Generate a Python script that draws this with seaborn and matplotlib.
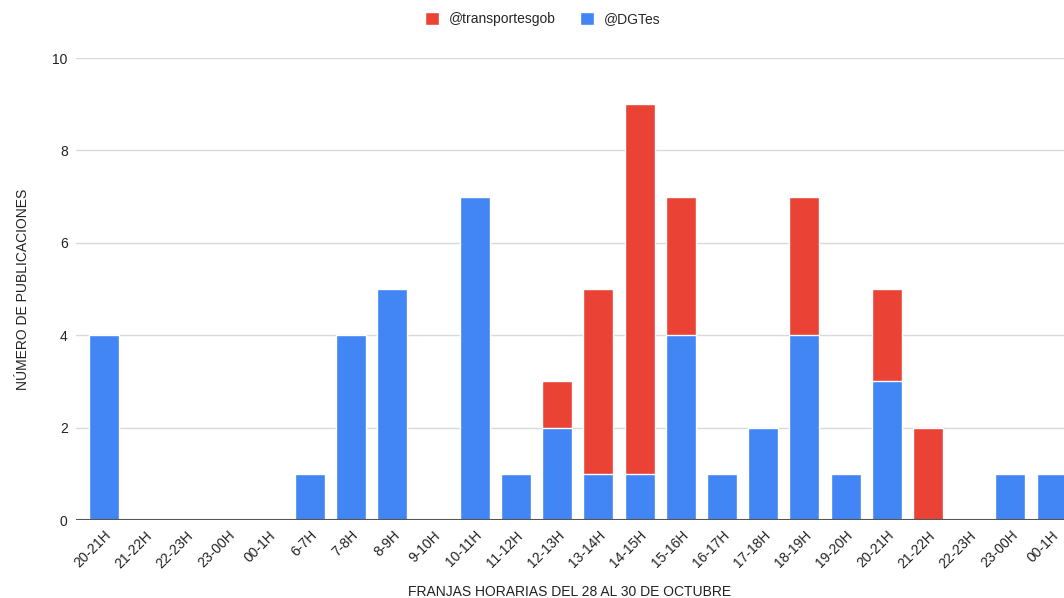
"""
Publicaciones por franja horaria (28-30 octubre): @DGTes vs @transportesgob.
Stacked bars, DGTes at the bottom.
"""

import pandas as pd
import numpy as np
import matplotlib
matplotlib.use("Agg")
import matplotlib.pyplot as plt
from matplotlib.patches import Patch
import seaborn as sns

# ── Data ────────────────────────────────────────────────────────────────────
franjas = ["20-21H", "21-22H", "22-23H", "23-00H", "00-1H", "6-7H", "7-8H",
           "8-9H", "9-10H", "10-11H", "11-12H", "12-13H", "13-14H", "14-15H",
           "15-16H", "16-17H", "17-18H", "18-19H", "19-20H", "20-21H",
           "21-22H", "22-23H", "23-00H", "00-1H"]
dgtes = [4, 0, 0, 0, 0, 1, 4, 5, 0, 7, 1, 2, 1, 1, 4, 1, 2, 4, 1, 3, 0, 0, 1, 1]
transportes = [0, 0, 0, 0, 0, 0, 0, 0, 0, 0, 0, 1, 4, 8, 3, 0, 0, 3, 0, 2, 2, 0, 0, 0]

RED = "#EA4335"
BLUE = "#4285F4"

# slot index keeps repeated labels apart
df = pd.DataFrame({
    "slot": np.arange(len(franjas)),
    "franja": franjas,
    "DGTes": dgtes,
    "transportesgob": transportes,
})
df["total"] = df["DGTes"] + df["transportesgob"]

# ── Plot ────────────────────────────────────────────────────────────────────
sns.set_style("white")
plt.rcParams["font.family"] = ["Liberation Sans", "DejaVu Sans"]

fig = plt.figure(figsize=(10.64, 5.98), dpi=100)
ax = fig.add_axes([0.0714, 0.1304, 0.9286, 0.7726])

# red = total, blue drawn over it = DGTes
sns.barplot(data=df, x="slot", y="total", color=RED, width=0.73,
            saturation=1, ax=ax, zorder=3)
sns.barplot(data=df, x="slot", y="DGTes", color=BLUE, width=0.73,
            saturation=1, ax=ax, zorder=4)

ax.set_ylim(0, 10)
ax.set_xlim(-0.68, 23.3)
ax.set_yticks([0, 2, 4, 6, 8, 10])
ax.yaxis.grid(True, color="#d9d9d9", linewidth=1)
ax.set_axisbelow(True)
for s in ["top", "right", "left", "bottom"]:
    ax.spines[s].set_visible(False)
ax.axhline(0, color="#555555", linewidth=1.5, zorder=5)

ax.set_xticks(df["slot"])
ax.set_xticklabels(franjas, rotation=45, ha="right", rotation_mode="anchor",
                   fontsize=10, color="#222222")
ax.tick_params(axis="x", length=0, pad=6)
ax.tick_params(axis="y", length=0, pad=6, labelsize=10, labelcolor="#222222")

ax.set_xlabel("FRANJAS HORARIAS DEL 28 AL 30 DE OCTUBRE", fontsize=10,
              color="#222222", labelpad=10)
ax.set_ylabel("NÚMERO DE PUBLICACIONES", fontsize=10, color="#222222",
              labelpad=16)

handles = [Patch(facecolor=RED, label="@transportesgob"),
           Patch(facecolor=BLUE, label="@DGTes")]
fig.legend(handles=handles, loc="center", bbox_to_anchor=(0.51, 0.968),
           ncol=2, frameon=False, fontsize=10, handlelength=1.0,
           handleheight=1.0, columnspacing=1.8, handletextpad=0.7)

fig.savefig("out.png", dpi=100)
plt.close(fig)
